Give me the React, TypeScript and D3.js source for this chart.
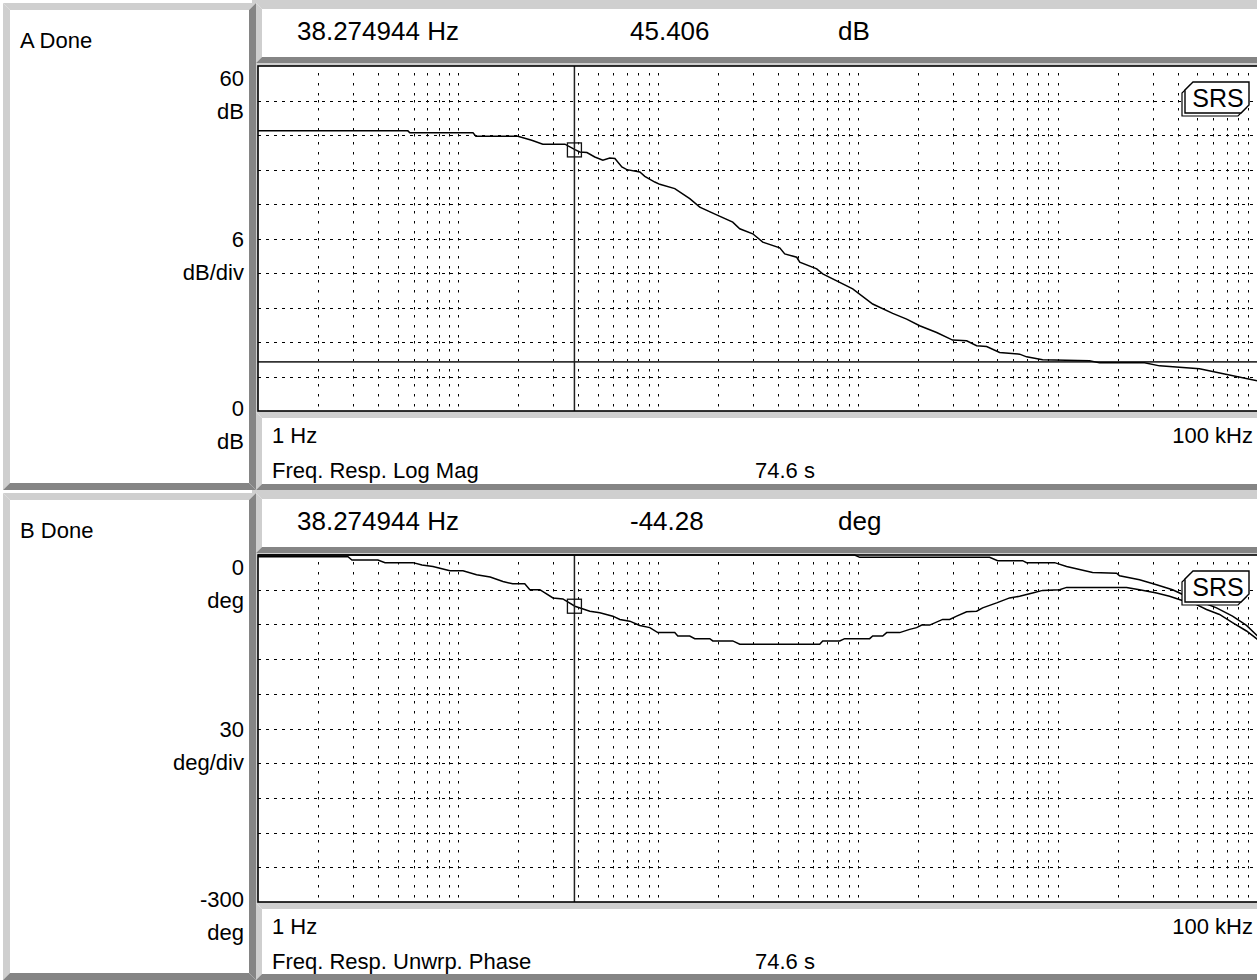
import React from 'react';
import * as d3 from 'd3';

const W = 1257;
const H = 980;
const FONT = '"Liberation Sans", Arial, Helvetica, sans-serif';

// ---- data ----
const freqDomain = [1, 100000];
const xStartLabel = '1 Hz';
const xEndLabel = '100 kHz';
const cursorFreq = 38.274944;
const cursorFreqText = '38.274944 Hz';
const elapsedText = '74.6 s';

const magDomain = [0, 60];
const magCursorValue = 45.406;
const magRefLevel = 8.55;
const magFreq = [1, 5.62, 5.75, 11.9, 12.3, 19.95, 23.4, 26.6, 34.3, 38.5, 40.7, 44.2, 48.4, 53.1, 57.5, 61.0, 66.1, 70.0, 81.3, 86.1, 96.6, 102.3, 121.6, 144.5, 162.2, 188.4, 237.1, 257.0, 298.5, 335.0, 407.4, 431.5, 495.5, 512.9, 623.7, 668.3, 944.1, 1188.5, 1496.2, 1757.9, 2041.7, 2483.1, 2985.4, 3507.5, 3935.5, 4415.7, 5128.6, 6456.5, 6998.4, 8414, 14454, 16218, 27227, 32359, 51286, 68391, 100000];
const magDb = [48.72, 48.72, 48.37, 48.37, 47.79, 47.79, 47.09, 46.40, 46.40, 45.47, 45.05, 44.95, 44.18, 43.60, 44.01, 43.90, 42.44, 41.98, 41.56, 40.81, 39.82, 39.42, 38.67, 36.93, 35.46, 34.41, 32.84, 31.69, 30.82, 29.36, 28.38, 27.33, 26.74, 25.87, 24.72, 23.84, 21.23, 18.61, 16.97, 15.99, 14.83, 13.66, 12.33, 12.21, 11.34, 11.22, 10.17, 9.89, 9.42, 8.90, 8.72, 8.37, 8.37, 7.85, 7.33, 6.45, 5.23];

const phaseDomain = [-300, 0];
const phaseCursorValue = -44.28;
const phaseAFreq = [1, 2.82, 2.95, 3.98, 4.32, 5.96, 6.61, 7.50, 8.13, 9.12, 10.6, 12.4, 14.5, 16.8, 18.8, 21.6, 22.9, 25.7, 29.9, 33.5, 38.5, 45.7, 51.3, 59.6, 64.6, 72.4, 81.3, 91.2, 100, 121.6, 125.9, 144.5, 153.1, 182.0, 188.4, 237.1, 257.0, 645.7, 668.3, 812.8, 861.0, 1148.2, 1188.5, 1333.5, 1396.4, 1621.8, 1819.7, 1972.4, 2089.3, 2290.9, 2660.7, 2884.0, 3126.1, 3507.5, 3935.5, 4217, 4955, 5754, 6457, 7499, 8414, 10233, 11092, 22131, 25704, 31261, 36308, 43152, 49545, 55590, 64565, 74989, 88105, 100000];
const phaseADeg = [-1.46, -1.46, -4.29, -4.29, -6.6, -6.6, -8.57, -10.0, -11.4, -13.7, -13.7, -17.1, -19.1, -22.9, -24.9, -24.9, -30.0, -30.0, -37.1, -38.0, -44.3, -48.6, -50.0, -52.9, -55.7, -57.2, -60.9, -62.8, -67.1, -67.1, -70.0, -70.0, -72.3, -72.3, -74.3, -74.3, -77.1, -77.1, -74.3, -74.3, -72.3, -72.3, -70.0, -70.0, -67.1, -67.1, -64.3, -62.8, -60.6, -60.6, -55.7, -55.7, -52.9, -49.1, -48.6, -45.7, -41.4, -37.1, -35.7, -32.8, -30.6, -30.0, -28.0, -28.0, -30.0, -32.8, -35.7, -40.0, -42.9, -47.1, -51.4, -58.5, -65.7, -72.9];
const phaseBFreq = [1, 966, 1023, 4571, 5012, 6683, 6998, 9661, 11092, 14962, 19724, 20417, 25704, 31261, 37584, 44157, 51286, 62373, 74989, 88105, 100000];
const phaseBDeg = [0, 0, -2.0, -2.0, -4.9, -4.9, -6.6, -6.6, -10.0, -15.2, -15.7, -18.0, -21.4, -25.7, -30.0, -35.7, -40.0, -45.7, -52.9, -60.9, -70.0];

const panelA = {
  status: 'A Done',
  topValue: '60', topUnit: 'dB', divValue: '6', divUnit: 'dB/div', botValue: '0', botUnit: 'dB',
  readValue: '45.406', readUnit: 'dB', title: 'Freq. Resp. Log Mag',
};
const panelB = {
  status: 'B Done',
  topValue: '0', topUnit: 'deg', divValue: '30', divUnit: 'deg/div', botValue: '-300', botUnit: 'deg',
  readValue: '-44.28', readUnit: 'deg', title: 'Freq. Resp. Unwrp. Phase',
};

// ---- layout ----
const LIGHT = '#cfcfcf';
const DARK = '#858585';

function Bevel({ x, y, w, h, t }: { x: number; y: number; w: number; h: number; t: number }) {
  const p = (pts: number[][]) => pts.map((q) => q.join(',')).join(' ');
  return (
    <g>
      <rect x={x} y={y} width={w} height={h} fill="#fff" />
      <polygon points={p([[x, y], [x + w, y], [x + w - t, y + t], [x + t, y + t]])} fill={LIGHT} />
      <polygon points={p([[x, y], [x + t, y + t], [x + t, y + h - t], [x, y + h]])} fill={LIGHT} />
      <polygon points={p([[x, y + h], [x + t, y + h - t], [x + w - t, y + h - t], [x + w, y + h]])} fill={DARK} />
      <polygon points={p([[x + w, y], [x + w, y + h], [x + w - t, y + h - t], [x + w - t, y + t]])} fill={DARK} />
    </g>
  );
}

type Layout = { top: number; bottom: number; plotTop: number; plotBottom: number; headerBottom: number; footerTop: number };

function Panel({ lay, info, yDomain, children, cursorValue, id }: any) {
  const x = d3.scaleLog().domain(freqDomain).range([258, 1257.5]);
  const y = d3.scaleLinear().domain(yDomain).range([lay.plotBottom, lay.plotTop]);
  const pl = 258, pr = 1257.5;
  const nDiv = 10;
  const yTicks = d3.range(nDiv + 1).map((i) => yDomain[0] + (i * (yDomain[1] - yDomain[0])) / nDiv);
  const vFreqs: number[] = [];
  for (let d = 0; d < 5; d++) for (let k = 1; k <= 9; k++) { const f = k * Math.pow(10, d); if (f > 1) vFreqs.push(f); }
  const divH = (lay.plotBottom - lay.plotTop) / nDiv;
  let dots = '';
  vFreqs.forEach((f) => {
    const xx = Math.round(x(f)) + 0.5;
    for (let i = 0; i < nDiv; i++) {
      const y0 = lay.plotTop + i * divH;
      [0, 0.24, 0.53, 0.82].forEach((fr) => {
        const yy = Math.round(y0 + fr * divH);
        if (fr === 0 && i === 0) return;
        dots += `M${xx},${yy - 1}V${yy + 1.5}`;
      });
    }
  });
  const fs = 22;
  const hs = 26;
  const lx = 244;
  const midY = y(yDomain[0] + (yDomain[1] - yDomain[0]) * 0.5);
  const cx = x(cursorFreq);
  return (
    <g>
      <rect x={252} y={lay.top} width={W - 252} height={lay.bottom - lay.top} fill={LIGHT} />
      <Bevel x={3} y={lay.top + 3} w={253} h={lay.bottom - lay.top - 3} t={7} />
      <Bevel x={256} y={lay.top + 3} w={1010} h={lay.headerBottom - lay.top - 3} t={6} />
      <Bevel x={256} y={lay.footerTop} w={1010} h={lay.bottom - lay.footerTop} t={6} />
      <rect x={pl} y={lay.plotTop} width={pr - pl + 2} height={lay.plotBottom - lay.plotTop} fill="#fff" />
      <defs>
        <clipPath id={`clip-${id}`}>
          <rect x={pl} y={lay.plotTop - 1} width={pr - pl} height={lay.plotBottom - lay.plotTop + 2} />
        </clipPath>
      </defs>
      {/* grid */}
      <path d={dots} stroke="#000" strokeWidth={1} fill="none" />
      {yTicks.slice(1, -1).map((v, i) => (
        <line key={i} x1={pl} x2={pr} y1={Math.round(y(v)) + 0.5} y2={Math.round(y(v)) + 0.5} stroke="#000" strokeWidth={1} strokeDasharray="3 5" />
      ))}
      <g clipPath={`url(#clip-${id})`}>{children(x, y)}</g>
      {/* cursor */}
      <line x1={cx} x2={cx} y1={lay.plotTop} y2={lay.plotBottom} stroke="#222" strokeWidth={1.5} />
      <rect x={cx - 7} y={y(cursorValue) - 7} width={14} height={14} fill="none" stroke="#111" strokeWidth={1.3} />
      {/* frame */}
      <rect x={pl} y={lay.plotTop} width={pr - pl + 2} height={lay.plotBottom - lay.plotTop} fill="none" stroke="#000" strokeWidth={1.6} />
      {/* SRS badge */}
      <SRS x={1185} y={lay.plotTop + 16} />
      {/* left labels */}
      <g fontFamily={FONT} fontSize={fs} fill="#000">
        <text x={20} y={lay.top + 48}>{info.status}</text>
        <g textAnchor="end">
          <text x={lx} y={lay.plotTop + 12 + 8}>{info.topValue}</text>
          <text x={lx} y={lay.plotTop + 45 + 8}>{info.topUnit}</text>
          <text x={lx} y={midY + 8}>{info.divValue}</text>
          <text x={lx} y={midY + 41}>{info.divUnit}</text>
          <text x={lx} y={lay.plotBottom + 5}>{info.botValue}</text>
          <text x={lx} y={lay.plotBottom + 38}>{info.botUnit}</text>
        </g>
      </g>
      {/* header */}
      <g fontFamily={FONT} fontSize={hs} fill="#000">
        <text x={297} y={lay.top + 40}>{cursorFreqText}</text>
        <text x={630} y={lay.top + 40}>{info.readValue}</text>
        <text x={838} y={lay.top + 40}>{info.readUnit}</text>
      </g>
      {/* footer */}
      <g fontFamily={FONT} fontSize={fs} fill="#000">
        <text x={272} y={lay.footerTop + 31}>{xStartLabel}</text>
        <text x={1253} y={lay.footerTop + 31} textAnchor="end">{xEndLabel}</text>
        <text x={272} y={lay.footerTop + 66}>{info.title}</text>
        <text x={755} y={lay.footerTop + 66}>{elapsedText}</text>
      </g>
    </g>
  );
}

function SRS({ x, y }: { x: number; y: number }) {
  const w = 64, h = 31, c = 8;
  const shape = (ox: number, oy: number) =>
    `M${ox + c},${oy}H${ox + w}V${oy + h - c}L${ox + w - c},${oy + h}H${ox}V${oy + c}Z`;
  return (
    <g>
      <path d={shape(x - 3, y + 3)} fill="#fff" stroke="#000" strokeWidth={1.2} />
      <path d={shape(x, y)} fill="#fff" stroke="#000" strokeWidth={1.4} />
      <text x={x + w / 2 + 1} y={y + h / 2 + 9} textAnchor="middle" fontFamily={FONT} fontSize={25} fill="#000">SRS</text>
    </g>
  );
}

export default function App() {
  const layA: Layout = { top: 0, bottom: 490, plotTop: 66, plotBottom: 411, headerBottom: 63, footerTop: 412 };
  const layB: Layout = { top: 490, bottom: 980, plotTop: 555, plotBottom: 902, headerBottom: 553, footerTop: 903 };
  const mkLine = (x: any, y: any, fs: number[], vs: number[]) =>
    d3.line<number>().x((_, i) => x(fs[i])).y((v) => y(v))(vs) || '';
  return (
    <svg width={W} height={H} style={{ position: 'absolute', left: 0, top: 0, display: 'block' }}>
      <rect x={0} y={0} width={W} height={H} fill="#fff" />
      <Panel lay={layA} info={panelA} yDomain={magDomain} cursorValue={magCursorValue} id="a">
        {(x: any, y: any) => (
          <g>
            <line x1={258} x2={1258} y1={y(magRefLevel)} y2={y(magRefLevel)} stroke="#333" strokeWidth={1.8} />
            <path d={mkLine(x, y, magFreq, magDb)} fill="none" stroke="#000" strokeWidth={1.5} />
          </g>
        )}
      </Panel>
      <Panel lay={layB} info={panelB} yDomain={phaseDomain} cursorValue={phaseCursorValue} id="b">
        {(x: any, y: any) => (
          <g>
            <path d={mkLine(x, y, phaseBFreq, phaseBDeg)} fill="none" stroke="#000" strokeWidth={1.5} />
            <path d={mkLine(x, y, phaseAFreq, phaseADeg)} fill="none" stroke="#000" strokeWidth={1.5} />
          </g>
        )}
      </Panel>
    </svg>
  );
}
